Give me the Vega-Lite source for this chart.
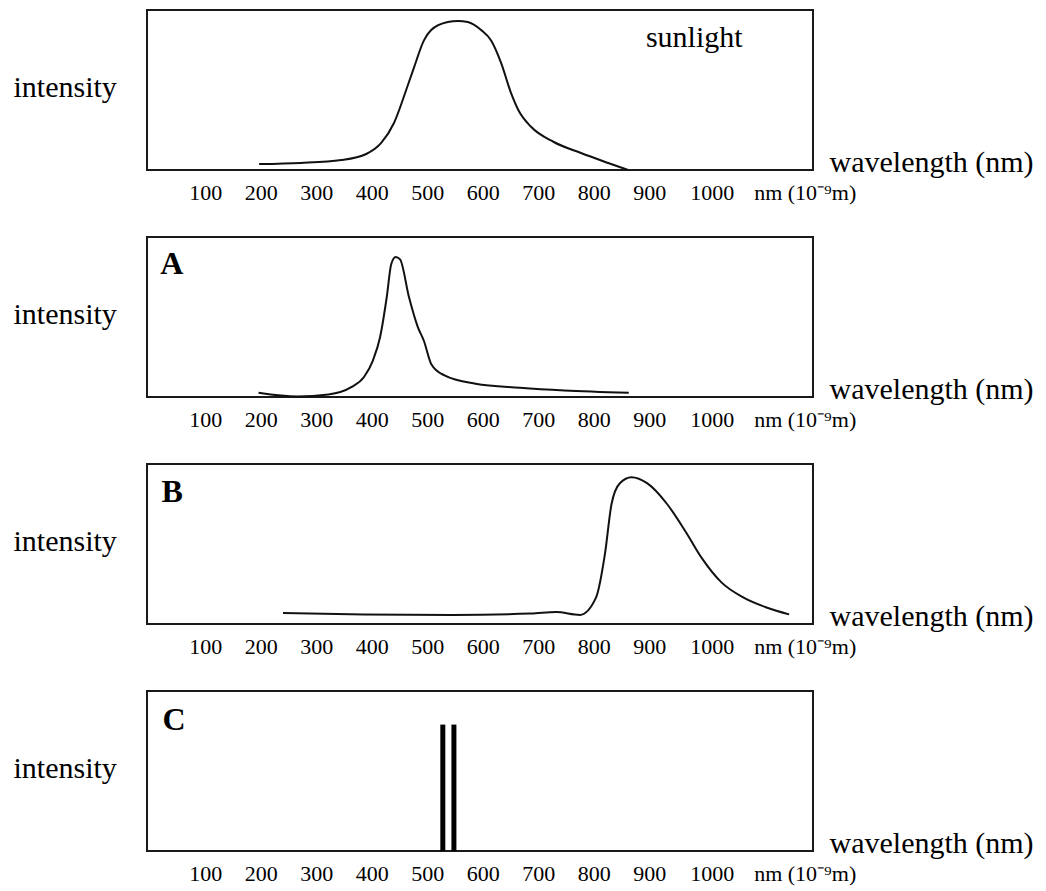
{
  "$schema": "https://vega.github.io/schema/vega-lite/v6.json",
  "padding": {"left": 12, "top": 9, "right": 5, "bottom": 5},
  "background": "white",
  "bounds": "flush",
  "spacing": 67,
  "config": {
    "font": "Liberation Serif",
    "view": {"stroke": "#1a1a1a", "strokeWidth": 2}
  },
  "datasets": {
    "sun": [
      {"nm": 197, "intensity": 3.7},
      {"nm": 272, "intensity": 4.4},
      {"nm": 345, "intensity": 6.2},
      {"nm": 390, "intensity": 10},
      {"nm": 417, "intensity": 16.9},
      {"nm": 440, "intensity": 29.4},
      {"nm": 462, "intensity": 50},
      {"nm": 476, "intensity": 64},
      {"nm": 494, "intensity": 81},
      {"nm": 507, "intensity": 87.5},
      {"nm": 537, "intensity": 92.5},
      {"nm": 555, "intensity": 93.2},
      {"nm": 573, "intensity": 92.5},
      {"nm": 597, "intensity": 87.5},
      {"nm": 615, "intensity": 81},
      {"nm": 633, "intensity": 67},
      {"nm": 651, "intensity": 48},
      {"nm": 664, "intensity": 37.5},
      {"nm": 687, "intensity": 27},
      {"nm": 728, "intensity": 17.5},
      {"nm": 777, "intensity": 10.6},
      {"nm": 826, "intensity": 4.4},
      {"nm": 862, "intensity": 0}
    ],
    "a": [
      {"nm": 196, "intensity": 2.7},
      {"nm": 266, "intensity": 0.3},
      {"nm": 322, "intensity": 1.6},
      {"nm": 363, "intensity": 6.2},
      {"nm": 386, "intensity": 12.5},
      {"nm": 402, "intensity": 22.8},
      {"nm": 415, "intensity": 37.5},
      {"nm": 427, "intensity": 62.5},
      {"nm": 435, "intensity": 83},
      {"nm": 443, "intensity": 87.5},
      {"nm": 451, "intensity": 86},
      {"nm": 467, "intensity": 62.5},
      {"nm": 483, "intensity": 43.7},
      {"nm": 494, "intensity": 35},
      {"nm": 507, "intensity": 20.7},
      {"nm": 531, "intensity": 13.5},
      {"nm": 587, "intensity": 8.3},
      {"nm": 667, "intensity": 5.8},
      {"nm": 747, "intensity": 4.1},
      {"nm": 863, "intensity": 2.7}
    ],
    "b": [
      {"nm": 240, "intensity": 6.8},
      {"nm": 386, "intensity": 6},
      {"nm": 546, "intensity": 5.7},
      {"nm": 687, "intensity": 6.5},
      {"nm": 732, "intensity": 7.5},
      {"nm": 775, "intensity": 5.7},
      {"nm": 804, "intensity": 16.5},
      {"nm": 820, "intensity": 43.5},
      {"nm": 832, "intensity": 75},
      {"nm": 847, "intensity": 88},
      {"nm": 868, "intensity": 91.7},
      {"nm": 896, "intensity": 88},
      {"nm": 932, "intensity": 75},
      {"nm": 965, "intensity": 58},
      {"nm": 995, "intensity": 41},
      {"nm": 1030, "intensity": 26},
      {"nm": 1070, "intensity": 16.5},
      {"nm": 1110, "intensity": 10.5},
      {"nm": 1152, "intensity": 6}
    ],
    "c": [
      {"nm": 528, "intensity": 79},
      {"nm": 548, "intensity": 79}
    ],
    "sunLabel": [{"nm": 894, "intensity": 77, "label": "sunlight"}],
    "aLabel": [{"nm": 19, "intensity": 77, "label": "A"}],
    "bLabel": [{"nm": 21, "intensity": 76.5, "label": "B"}],
    "cLabel": [{"nm": 23, "intensity": 75.5, "label": "C"}]
  },
  "vconcat": [
    {
      "width": 666,
      "height": 160,
      "encoding": {
        "x": {"field": "nm", "type": "quantitative", "scale": {"domain": [-5, 1195], "nice": false, "zero": false},
          "axis": {"values": [100, 200, 300, 400, 500, 600, 700, 800, 900, 1000, 1180], "format": "d", "labelExpr": "datum.value > 1100 ? 'nm (10⁻⁹m)' : datum.label", "ticks": false, "domain": false, "grid": false, "labelFont": "Liberation Serif", "labelFontSize": 22, "labelOffset": {"condition": {"test": "datum.value == 1000", "value": 7}, "value": 0}, "labelColor": "black", "labelPadding": 12, "labelFlush": false, "labelOverlap": false, "title": "wavelength (nm)", "titleFont": "Liberation Serif", "titleFontSize": 30, "titleFontWeight": "normal", "titleColor": "black", "titleX": 682, "titleY": 1, "titleAlign": "left", "titleBaseline": "alphabetic", "titleAnchor": null}},
        "y": {"field": "intensity", "type": "quantitative", "scale": {"domain": [0, 100], "nice": false},
          "axis": {"labels": false, "ticks": false, "domain": false, "grid": false, "title": "intensity", "titleFont": "Liberation Serif", "titleFontSize": 30, "titleFontWeight": "normal", "titleColor": "black", "titleAngle": 0, "titleAlign": "left", "titleBaseline": "alphabetic", "titleX": -134, "titleY": 86, "titleAnchor": null}}
      },
      "layer": [
        {"data": {"name": "sun"}, "mark": {"type": "line", "interpolate": "monotone", "color": "#111", "strokeWidth": 2}},
        {"data": {"name": "sunLabel"}, "mark": {"type": "text", "align": "left", "baseline": "alphabetic", "fontSize": 30, "font": "Liberation Serif", "color": "black"}, "encoding": {"text": {"field": "label"}}}
      ]
    },
    {
      "width": 666,
      "height": 160,
      "encoding": {
        "x": {"field": "nm", "type": "quantitative", "scale": {"domain": [-5, 1195], "nice": false, "zero": false},
          "axis": {"values": [100, 200, 300, 400, 500, 600, 700, 800, 900, 1000, 1180], "format": "d", "labelExpr": "datum.value > 1100 ? 'nm (10⁻⁹m)' : datum.label", "ticks": false, "domain": false, "grid": false, "labelFont": "Liberation Serif", "labelFontSize": 22, "labelOffset": {"condition": {"test": "datum.value == 1000", "value": 7}, "value": 0}, "labelColor": "black", "labelPadding": 12, "labelFlush": false, "labelOverlap": false, "title": "wavelength (nm)", "titleFont": "Liberation Serif", "titleFontSize": 30, "titleFontWeight": "normal", "titleColor": "black", "titleX": 682, "titleY": 1, "titleAlign": "left", "titleBaseline": "alphabetic", "titleAnchor": null}},
        "y": {"field": "intensity", "type": "quantitative", "scale": {"domain": [0, 100], "nice": false},
          "axis": {"labels": false, "ticks": false, "domain": false, "grid": false, "title": "intensity", "titleFont": "Liberation Serif", "titleFontSize": 30, "titleFontWeight": "normal", "titleColor": "black", "titleAngle": 0, "titleAlign": "left", "titleBaseline": "alphabetic", "titleX": -134, "titleY": 86, "titleAnchor": null}}
      },
      "layer": [
        {"data": {"name": "a"}, "mark": {"type": "line", "interpolate": "monotone", "color": "#111", "strokeWidth": 2}},
        {"data": {"name": "aLabel"}, "mark": {"type": "text", "align": "left", "baseline": "alphabetic", "fontSize": 32, "fontWeight": "bold", "font": "Liberation Serif", "color": "black"}, "encoding": {"text": {"field": "label"}}}
      ]
    },
    {
      "width": 666,
      "height": 160,
      "encoding": {
        "x": {"field": "nm", "type": "quantitative", "scale": {"domain": [-5, 1195], "nice": false, "zero": false},
          "axis": {"values": [100, 200, 300, 400, 500, 600, 700, 800, 900, 1000, 1180], "format": "d", "labelExpr": "datum.value > 1100 ? 'nm (10⁻⁹m)' : datum.label", "ticks": false, "domain": false, "grid": false, "labelFont": "Liberation Serif", "labelFontSize": 22, "labelOffset": {"condition": {"test": "datum.value == 1000", "value": 7}, "value": 0}, "labelColor": "black", "labelPadding": 12, "labelFlush": false, "labelOverlap": false, "title": "wavelength (nm)", "titleFont": "Liberation Serif", "titleFontSize": 30, "titleFontWeight": "normal", "titleColor": "black", "titleX": 682, "titleY": 1, "titleAlign": "left", "titleBaseline": "alphabetic", "titleAnchor": null}},
        "y": {"field": "intensity", "type": "quantitative", "scale": {"domain": [0, 100], "nice": false},
          "axis": {"labels": false, "ticks": false, "domain": false, "grid": false, "title": "intensity", "titleFont": "Liberation Serif", "titleFontSize": 30, "titleFontWeight": "normal", "titleColor": "black", "titleAngle": 0, "titleAlign": "left", "titleBaseline": "alphabetic", "titleX": -134, "titleY": 86, "titleAnchor": null}}
      },
      "layer": [
        {"data": {"name": "b"}, "mark": {"type": "line", "interpolate": "monotone", "color": "#111", "strokeWidth": 2}},
        {"data": {"name": "bLabel"}, "mark": {"type": "text", "align": "left", "baseline": "alphabetic", "fontSize": 32, "fontWeight": "bold", "font": "Liberation Serif", "color": "black"}, "encoding": {"text": {"field": "label"}}}
      ]
    },
    {
      "width": 666,
      "height": 160,
      "encoding": {
        "x": {"field": "nm", "type": "quantitative", "scale": {"domain": [-5, 1195], "nice": false, "zero": false},
          "axis": {"values": [100, 200, 300, 400, 500, 600, 700, 800, 900, 1000, 1180], "format": "d", "labelExpr": "datum.value > 1100 ? 'nm (10⁻⁹m)' : datum.label", "ticks": false, "domain": false, "grid": false, "labelFont": "Liberation Serif", "labelFontSize": 22, "labelOffset": {"condition": {"test": "datum.value == 1000", "value": 7}, "value": 0}, "labelColor": "black", "labelPadding": 12, "labelFlush": false, "labelOverlap": false, "title": "wavelength (nm)", "titleFont": "Liberation Serif", "titleFontSize": 30, "titleFontWeight": "normal", "titleColor": "black", "titleX": 682, "titleY": 1, "titleAlign": "left", "titleBaseline": "alphabetic", "titleAnchor": null}},
        "y": {"field": "intensity", "type": "quantitative", "scale": {"domain": [0, 100], "nice": false},
          "axis": {"labels": false, "ticks": false, "domain": false, "grid": false, "title": "intensity", "titleFont": "Liberation Serif", "titleFontSize": 30, "titleFontWeight": "normal", "titleColor": "black", "titleAngle": 0, "titleAlign": "left", "titleBaseline": "alphabetic", "titleX": -134, "titleY": 86, "titleAnchor": null}}
      },
      "layer": [
        {"data": {"name": "c"}, "mark": {"type": "rule", "color": "black", "strokeWidth": 5}, "encoding": {"y2": {"datum": 0}}},
        {"data": {"name": "cLabel"}, "mark": {"type": "text", "align": "left", "baseline": "alphabetic", "fontSize": 32, "fontWeight": "bold", "font": "Liberation Serif", "color": "black"}, "encoding": {"text": {"field": "label"}}}
      ]
    }
  ]
}
